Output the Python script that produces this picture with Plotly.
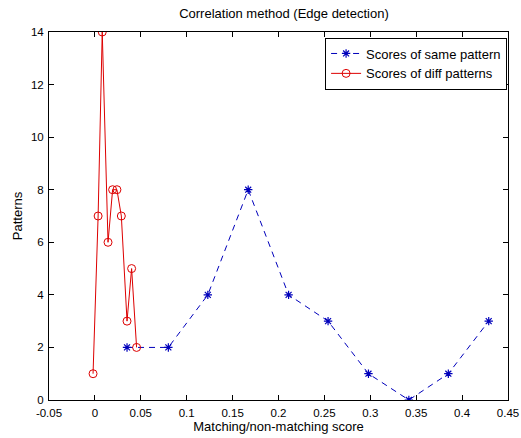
import plotly.graph_objects as go

same_x = [0.035, 0.080, 0.123, 0.167, 0.211, 0.254, 0.298, 0.342, 0.385, 0.429]
same_y = [2, 2, 4, 8, 4, 3, 1, 0, 1, 3]

diff_x = [-0.002, 0.0035, 0.008, 0.0143, 0.0193, 0.024, 0.0288, 0.035, 0.040, 0.0454]
diff_y = [1, 7, 14, 6, 8, 8, 7, 3, 5, 2]

x_ticks = [-0.05, 0, 0.05, 0.1, 0.15, 0.2, 0.25, 0.3, 0.35, 0.4, 0.45]
x_labels = ["-0.05", "0", "0.05", "0.1", "0.15", "0.2", "0.25", "0.3", "0.35", "0.4", "0.45"]
y_ticks = [0, 2, 4, 6, 8, 10, 12, 14]

fig = go.Figure()
fig.add_trace(go.Scatter(
    x=same_x, y=same_y, mode="lines+markers", name="Scores of same pattern",
    line=dict(color="#0000bb", width=1, dash="6px,5px"),
    marker=dict(symbol="asterisk-open", size=7, color="#0000bb", line=dict(color="#0000bb", width=1.2)),
))
fig.add_trace(go.Scatter(
    x=diff_x, y=diff_y, mode="lines+markers", name="Scores of diff patterns",
    line=dict(color="#dd0000", width=1),
    marker=dict(symbol="circle-open", size=8, color="#dd0000", line=dict(color="#dd0000", width=1)),
))

axis_common = dict(showline=True, linecolor="black", linewidth=1, mirror="ticks",
                   ticks="inside", ticklen=5, tickcolor="black", showgrid=False, zeroline=False,
                   automargin=False, tickfont=dict(size=11.5, color="black"))

fig.update_layout(
    width=521, height=438,
    margin=dict(l=49, r=13, t=32, b=38),
    paper_bgcolor="white", plot_bgcolor="white",
    font=dict(family="Liberation Sans, Arial, sans-serif", size=12, color="black"),
    title=dict(text="Correlation method (Edge detection)", x=0.545, xanchor="center", y=0.97, yanchor="middle",
               font=dict(size=13, color="black")),
    xaxis=dict(range=[-0.05, 0.45], tickvals=x_ticks, ticktext=x_labels, ticklabelstandoff=2,
               title=dict(text="Matching/non-matching score", standoff=0, font=dict(size=13)), **axis_common),
    yaxis=dict(range=[0, 14], tickvals=y_ticks, ticklabelstandoff=2,
               title=dict(text="Patterns", standoff=5, font=dict(size=13)), **axis_common),
    legend=dict(x=0.998, y=0.985, xanchor="right", yanchor="top", bordercolor="black", borderwidth=1,
                bgcolor="white", font=dict(size=13), tracegroupgap=0, itemwidth=30),
    showlegend=True,
)

fig.write_html("out.html")
